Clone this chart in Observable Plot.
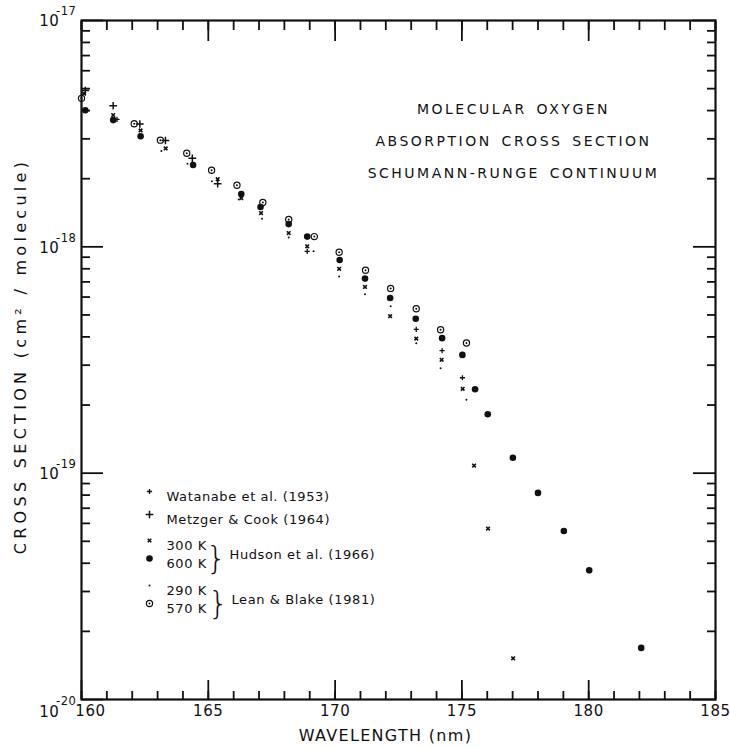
<!DOCTYPE html>
<html>
<head>
<meta charset="utf-8">
<script src="https://cdn.jsdelivr.net/npm/d3@7"></script>
<script src="https://cdn.jsdelivr.net/npm/@observablehq/plot@0.6"></script>
<style>
  html, body { margin: 0; padding: 0; background: #fff; }
  #chart svg { display: block; }
</style>
</head>
<body>
<div id="chart"></div>
<script>
// ---------------- data ----------------
const watanabeWl    = [161.4, 168.9, 173.2, 174.22, 175.02];
const watanabeSigma = [3.66e-18, 9.55e-19, 4.32e-19, 3.48e-19, 2.64e-19];

const metzgerWl    = [160.15, 161.25, 162.3, 163.31, 164.37, 165.37];
const metzgerSigma = [4.9e-18, 4.20e-18, 3.49e-18, 2.95e-18, 2.46e-18, 1.90e-18];

const hudson300Wl    = [160.1, 161.25, 162.33, 163.32, 165.37, 166.3, 167.08, 168.17, 168.9, 170.16, 171.18, 172.17, 173.2, 174.2, 175.03, 175.48, 176.03, 177.02];
const hudson300Sigma = [4.75e-18, 3.82e-18, 3.27e-18, 2.72e-18, 1.99e-18, 1.64e-18, 1.41e-18, 1.15e-18, 1.005e-18, 8.0e-19, 6.65e-19, 4.94e-19, 3.93e-19, 3.17e-19, 2.36e-19, 1.08e-19, 5.69e-20, 1.52e-20];

const hudson600Wl    = [160.15, 161.25, 162.33, 164.4, 166.3, 167.06, 168.17, 168.9, 170.18, 171.18, 172.17, 173.18, 174.22, 175.02, 175.52, 176.02, 177.01, 178.0, 179.02, 180.02, 182.07];
const hudson600Sigma = [4.01e-18, 3.63e-18, 3.08e-18, 2.30e-18, 1.71e-18, 1.50e-18, 1.26e-18, 1.11e-18, 8.75e-19, 7.24e-19, 5.94e-19, 4.81e-19, 3.95e-19, 3.33e-19, 2.35e-19, 1.82e-19, 1.17e-19, 8.18e-20, 5.55e-20, 3.72e-20, 1.69e-20];

const lean290Wl    = [163.15, 164.18, 165.14, 166.2, 167.12, 168.17, 169.15, 170.16, 171.18, 172.19, 173.2, 174.16, 175.18];
const lean290Sigma = [2.65e-18, 2.33e-18, 1.95e-18, 1.62e-18, 1.33e-18, 1.10e-18, 9.55e-19, 7.4e-19, 6.17e-19, 5.46e-19, 3.75e-19, 2.91e-19, 2.11e-19];

const lean570Wl    = [160.0, 162.08, 163.11, 164.15, 165.13, 166.13, 167.15, 168.17, 169.18, 170.16, 171.2, 172.19, 173.2, 174.16, 175.18];
const lean570Sigma = [4.53e-18, 3.50e-18, 2.96e-18, 2.59e-18, 2.18e-18, 1.87e-18, 1.57e-18, 1.32e-18, 1.11e-18, 9.46e-19, 7.88e-19, 6.55e-19, 5.33e-19, 4.30e-19, 3.76e-19];

const xMinorTicks = [160,161,162,163,164,165,166,167,168,169,170,171,172,173,174,175,176,177,178,179,180,181,182,183,184,185];
const xMajorTicks = [160, 165, 170, 175, 180, 185];
const yMajorTicks = [1e-20, 1e-19, 1e-18, 1e-17];
const yTickExponents = ["-20", "-19", "-18", "-17"];
const yMinorMultipliers = [2, 3, 4, 5, 6, 7, 8, 9];
const yMinorTicks = [1e-20, 1e-19, 1e-18].flatMap(d => yMinorMultipliers.map(m => m * d));

const titleLines = ["MOLECULAR OXYGEN", "ABSORPTION CROSS SECTION", "SCHUMANN-RUNGE CONTINUUM"];
const xTitle = "WAVELENGTH (nm)";
const yTitle = "CROSS SECTION (cm² / molecule)";

const legendLabels = ["Watanabe et al. (1953)", "Metzger & Cook (1964)", "300 K", "600 K", "290 K", "570 K"];
const legendGroups = ["Hudson et al. (1966)", "Lean & Blake (1981)"];

// ---------------- build ----------------
const ink = "#111";
const rows = (wl, s) => wl.map((w, i) => ({wl: w, sigma: s[i]}));
const watanabe = rows(watanabeWl, watanabeSigma);
const metzger = rows(metzgerWl, metzgerSigma);
const hudson300 = rows(hudson300Wl, hudson300Sigma);
const hudson600 = rows(hudson600Wl, hudson600Sigma);
const lean290 = rows(lean290Wl, lean290Sigma);
const lean570 = rows(lean570Wl, lean570Sigma);

const W = 730, H = 748;
const mL = 81, mR = 15, mT = 20, mB = 49;

// legend layout (pixel offsets from frame top-left)
const legRowDy = [471, 494, 520, 538, 565, 583];
const legMarkDx = 68, legTextDx = 85;

const markerStyles = [
  {symbol: "plus", r: 1.8, stroke: ink, strokeWidth: 1.3, fill: "none"},   // Watanabe
  {symbol: "plus", r: 2.6, stroke: ink, strokeWidth: 1.5, fill: "none"},   // Metzger
  {symbol: "times", r: 1.8, stroke: ink, strokeWidth: 1.6, fill: "none"},  // Hudson 300
  {symbol: "circle", r: 3.3, fill: ink, stroke: "none"},                   // Hudson 600
  {symbol: "circle", r: 1.0, fill: ink, stroke: "none"},                   // Lean 290
  {symbol: "circle", r: 3.1, fill: "white", stroke: ink, strokeWidth: 1.2} // Lean 570
];

const legendMarks = [];
legendLabels.forEach((lab, i) => {
  legendMarks.push(Plot.dot([lab], {frameAnchor: "top-left", dx: legMarkDx, dy: legRowDy[i], ...markerStyles[i]}));
  if (i === 5) legendMarks.push(Plot.dot([lab], {frameAnchor: "top-left", dx: legMarkDx, dy: legRowDy[i], r: 1.0, fill: ink}));
  legendMarks.push(Plot.text([lab], {frameAnchor: "top-left", dx: legTextDx, dy: legRowDy[i], text: d => d, textAnchor: "start", fontSize: 13, fill: ink}));
});
[[529, 148], [574, 150]].forEach(([dy, dx], j) => {
  legendMarks.push(Plot.text(["}"], {frameAnchor: "top-left", dx: dx - 13, dy: dy - 3, text: d => d, fontSize: 32, fontWeight: 200, fill: ink, textAnchor: "middle"}));
  legendMarks.push(Plot.text([legendGroups[j]], {frameAnchor: "top-left", dx, dy, text: d => d, textAnchor: "start", fontSize: 13, fill: ink}));
});

const xy = {x: "wl", y: "sigma"};
const tickStyle = {fill: "none", label: null, strokeWidth: 1.8, stroke: ink};

const chart = Plot.plot({
  width: W, height: H,
  marginLeft: mL, marginRight: mR, marginTop: mT, marginBottom: mB,
  style: {fontFamily: "'DejaVu Sans', sans-serif", color: ink, background: "#fff", overflow: "visible"},
  x: {domain: [160, 185], axis: null},
  y: {type: "log", domain: [1e-20, 1e-17], axis: null},
  marks: [
    // ticks (inward)
    Plot.axisX(xMinorTicks, {anchor: "bottom", tickSize: -8, ...tickStyle}),
    Plot.axisX(xMajorTicks, {anchor: "bottom", tickSize: -19, ...tickStyle}),
    Plot.axisX(xMinorTicks, {anchor: "top", tickSize: -9, ...tickStyle}),
    Plot.axisX(xMajorTicks, {anchor: "top", tickSize: -20, ...tickStyle}),
    Plot.axisY(yMinorTicks, {anchor: "left", tickSize: -9, ...tickStyle}),
    Plot.axisY(yMajorTicks, {anchor: "left", tickSize: -22, ...tickStyle}),
    Plot.axisY(yMinorTicks, {anchor: "right", tickSize: -9, ...tickStyle}),
    Plot.axisY(yMajorTicks, {anchor: "right", tickSize: -23, ...tickStyle}),
    // x tick labels
    Plot.axisX(xMajorTicks.filter(d => d > 160), {anchor: "bottom", tickSize: 0, tickPadding: 6, stroke: "none", label: null, fontSize: 15, fill: ink}),
    Plot.axisX(xMajorTicks.filter(d => d === 160), {anchor: "bottom", tickSize: 0, tickPadding: 6, dx: 9, stroke: "none", label: null, fontSize: 15, fill: ink}),
    // y tick labels (10 with raised exponent)
    Plot.text(yMajorTicks, {filter: d => d > 1e-20, y: d => d, frameAnchor: "left", text: () => "10", textAnchor: "end", dx: -22, dy: 1, fontSize: 15, fill: ink}),
    Plot.text(yMajorTicks, {filter: d => d > 1e-20, y: d => d, frameAnchor: "left", text: d => yTickExponents[yMajorTicks.indexOf(d)], textAnchor: "end", dx: -5, dy: -9, fontSize: 11.5, fill: ink}),
    Plot.text(yMajorTicks, {filter: d => d === 1e-20, y: d => d, frameAnchor: "left", text: () => "10", textAnchor: "end", dx: -22, dy: 13, fontSize: 15, fill: ink}),
    Plot.text(yMajorTicks, {filter: d => d === 1e-20, y: d => d, frameAnchor: "left", text: d => yTickExponents[yMajorTicks.indexOf(d)], textAnchor: "end", dx: -5, dy: 2, fontSize: 11.5, fill: ink}),
    // axis titles
    Plot.text([xTitle], {frameAnchor: "bottom", textAnchor: "middle", dx: -13, dy: 41, text: d => d, fontSize: 16, fill: ink}),
    Plot.text([yTitle], {frameAnchor: "left", textAnchor: "middle", dx: -61, dy: -4, rotate: -90, text: d => d, fontSize: 16, fill: ink}),
    // title
    Plot.text([titleLines.join("\n")], {frameAnchor: "top-left", textAnchor: "middle", dx: 432, dy: 71, lineAnchor: "top", lineHeight: 2.28, text: d => d, fontSize: 14, fill: ink}),
    // data
    Plot.dot(lean570, {...xy, r: 3.1, fill: "white", stroke: ink, strokeWidth: 1.2}),
    Plot.dot(lean570, {...xy, r: 1.0, fill: ink}),
    Plot.dot(hudson600, {...xy, r: 3.3, fill: ink}),
    Plot.dot(hudson300, {...xy, symbol: "times", r: 1.8, stroke: ink, strokeWidth: 1.6}),
    Plot.dot(metzger, {...xy, symbol: "plus", r: 2.6, stroke: ink, strokeWidth: 1.5}),
    Plot.dot(watanabe, {...xy, symbol: "plus", r: 1.8, stroke: ink, strokeWidth: 1.3}),
    Plot.dot(lean290, {...xy, r: 1.0, fill: ink}),
    ...legendMarks,
    Plot.frame({stroke: ink, strokeWidth: 2.2})
  ]
});

document.getElementById("chart").appendChild(chart);
const svg = d3.select(chart);
svg.selectAll("text").attr("letter-spacing", "0.6px");
svg.selectAll("text").each(function () {
  const t = this.textContent;
  if (titleLines.some(l => t.includes(l.slice(0, 8)))) d3.select(this).attr("letter-spacing", "2.5px").attr("word-spacing", "3px");
  if (t === xTitle) d3.select(this).attr("letter-spacing", "1.3px");
  if (t === yTitle) d3.select(this).attr("letter-spacing", "4.3px");
});
</script>
</body>
</html>
